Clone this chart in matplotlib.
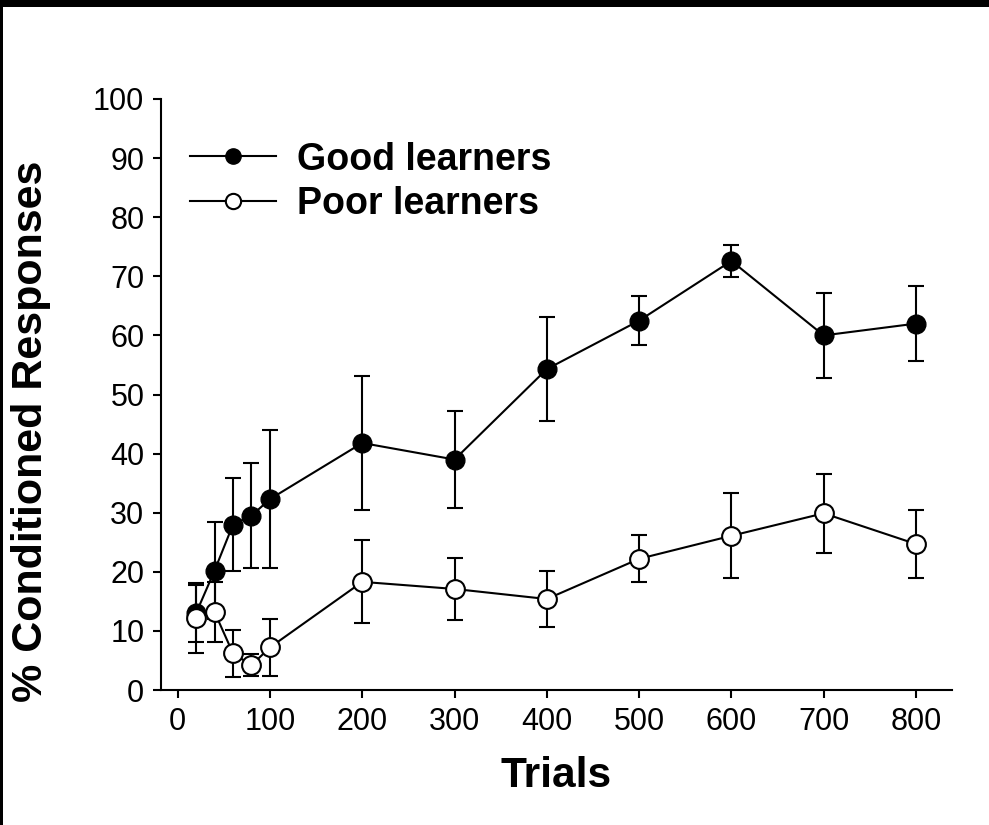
import numpy as np
import matplotlib
matplotlib.use("Agg")
import matplotlib.pyplot as plt
from matplotlib.patches import Rectangle
from matplotlib.lines import Line2D

plt.rcParams['font.family'] = ['Liberation Sans', 'DejaVu Sans']

trials = [20, 40, 60, 80, 100, 200, 300, 400, 500, 600, 700, 800]
good = [13.0, 20.2, 28.0, 29.5, 32.3, 41.8, 39.0, 54.3, 62.5, 72.6, 60.0, 62.0]
good_err = [4.8, 8.2, 7.9, 8.9, 11.7, 11.3, 8.2, 8.8, 4.2, 2.7, 7.2, 6.3]
poor = [12.2, 13.2, 6.2, 4.2, 7.2, 18.3, 17.1, 15.4, 22.2, 26.1, 29.9, 24.7]
poor_err = [5.9, 5.1, 4.0, 1.9, 4.9, 7.0, 5.2, 4.7, 4.0, 7.2, 6.7, 5.8]

fig = plt.figure(figsize=(9.89, 8.25), dpi=100)
ax = fig.add_axes([0.1628, 0.1636, 0.7998, 0.7164])

# black frame bits along the top and left edge
fig.patches.append(Rectangle((0, 1 - 7 / 825), 1, 7 / 825, transform=fig.transFigure,
                             facecolor='black', edgecolor='none'))
fig.patches.append(Rectangle((0, 0), 3 / 989, 1, transform=fig.transFigure,
                             facecolor='black', edgecolor='none'))

ax.errorbar(trials, good, yerr=good_err, fmt='-o', color='black', mfc='black', mec='black',
            ms=13.5, lw=1.5, elinewidth=1.5, capsize=6, capthick=1.5, zorder=2)
ax.errorbar(trials, poor, yerr=poor_err, fmt='-o', color='black', mfc='white', mec='black',
            ms=13.5, mew=1.5, lw=1.5, elinewidth=1.5, capsize=6, capthick=1.5, zorder=3)

ax.set_xlim(-18, 839)
ax.set_ylim(0, 100)
ax.set_xticks(np.arange(0, 801, 100))
ax.set_yticks(np.arange(0, 101, 10))
ax.spines['top'].set_visible(False)
ax.spines['right'].set_visible(False)
for s in ['left', 'bottom']:
    ax.spines[s].set_linewidth(1.5)
ax.tick_params(direction='out', length=6, width=1.5, labelsize=22, pad=6)

ax.set_xlabel('Trials', fontsize=30.5, fontweight='bold', labelpad=14)
ax.set_ylabel('% Conditioned Responses', fontsize=31, fontweight='bold')
ax.yaxis.set_label_coords(-0.139, 0.438)

handles = [Line2D([], [], color='black', lw=1.5, marker='o', ms=11, mfc='black', mec='black'),
           Line2D([], [], color='black', lw=1.5, marker='o', ms=11, mfc='white', mec='black', mew=1.5)]
ax.legend(handles, ['Good learners', 'Poor learners'], loc='center left',
          bbox_to_anchor=(0.0367, 0.86), frameon=False,
          prop={'weight': 'bold', 'size': 27}, borderpad=0, borderaxespad=0,
          handlelength=2.3, handletextpad=0.55, labelspacing=0.22)

fig.savefig('out.png', dpi=100)
